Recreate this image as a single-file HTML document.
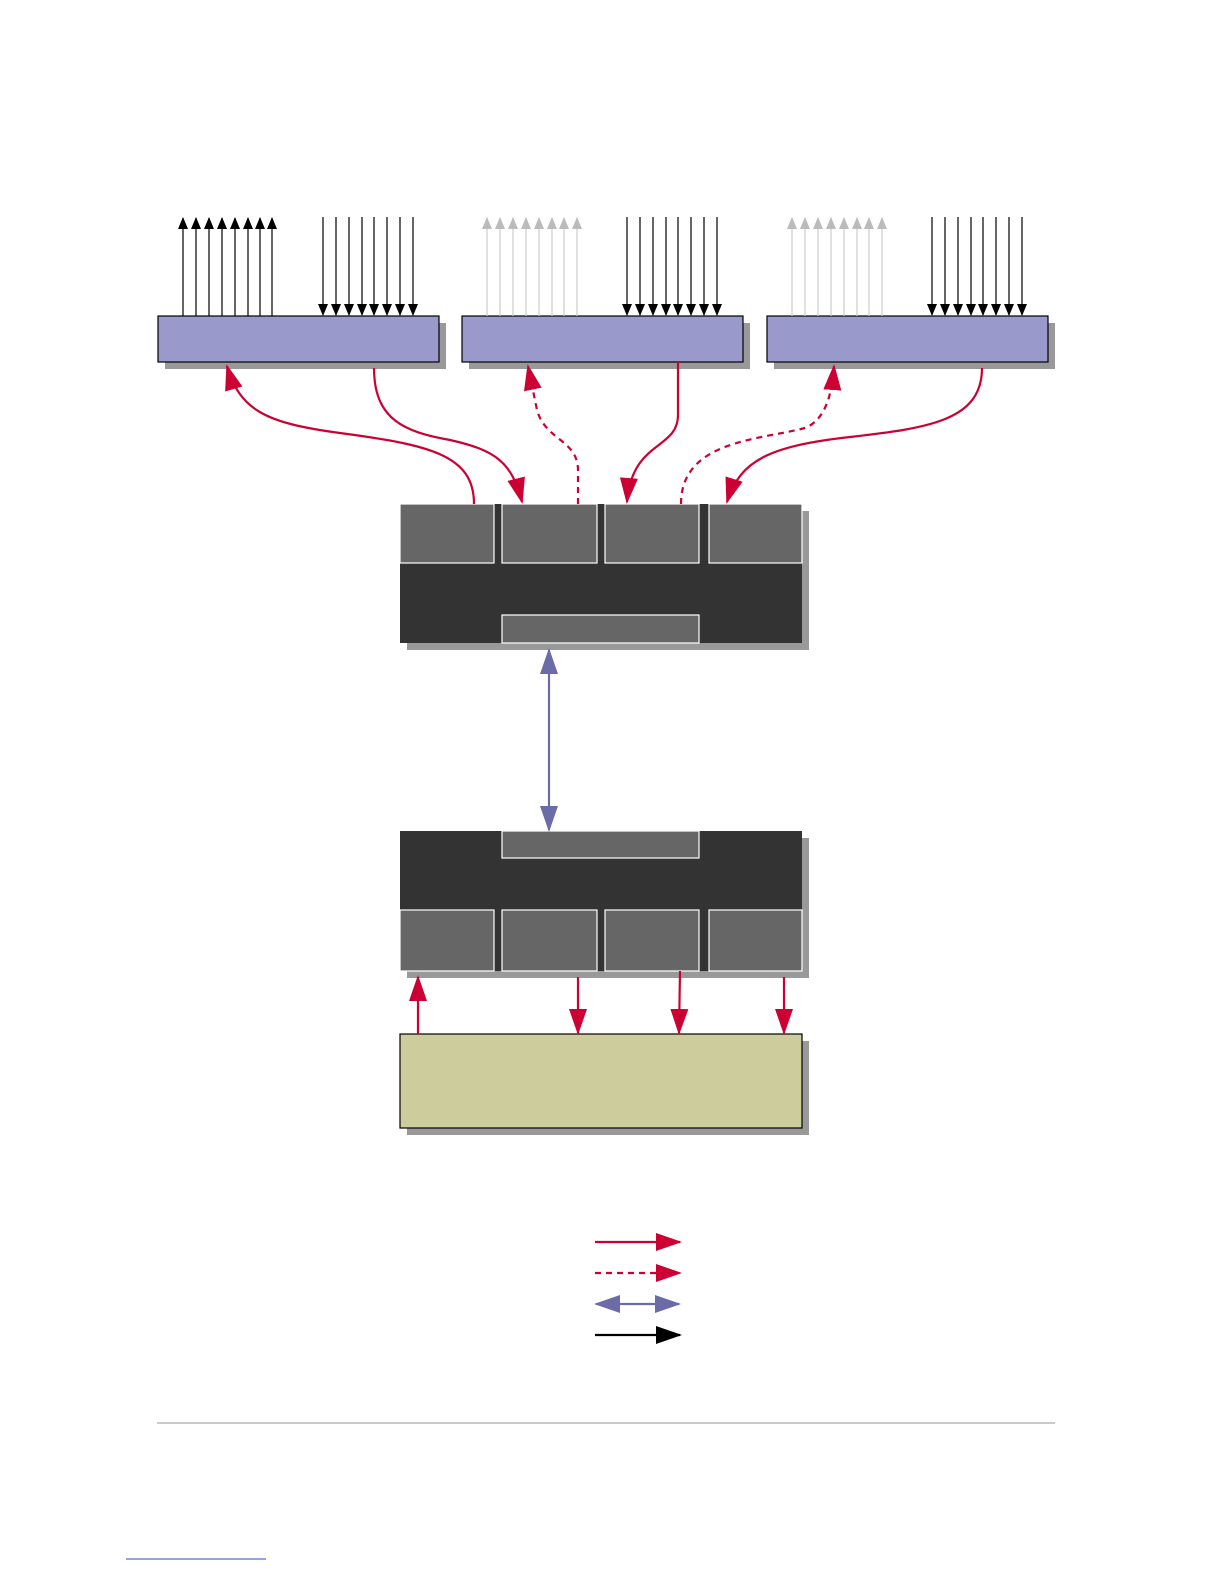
<!DOCTYPE html>
<html><head><style>html,body{margin:0;padding:0;background:#fff}svg{display:block}</style></head>
<body>
<svg width="1224" height="1584" viewBox="0 0 1224 1584" xmlns="http://www.w3.org/2000/svg">
<defs>
<marker id="r" markerUnits="userSpaceOnUse" markerWidth="26" markerHeight="18" refX="24" refY="9" orient="auto"><path d="M0,0 L26,9 L0,18 Z" fill="#cc0033"/></marker>
<marker id="p" markerUnits="userSpaceOnUse" markerWidth="26" markerHeight="18" refX="24" refY="9" orient="auto-start-reverse"><path d="M0,0 L26,9 L0,18 Z" fill="#6b6ba8"/></marker>
<marker id="b" markerUnits="userSpaceOnUse" markerWidth="12" markerHeight="10" refX="11" refY="5" orient="auto"><path d="M0,0 L12,5 L0,10 Z" fill="#000"/></marker>
<marker id="g" markerUnits="userSpaceOnUse" markerWidth="12" markerHeight="10" refX="11" refY="5" orient="auto"><path d="M0,0 L12,5 L0,10 Z" fill="#bbb"/></marker>
<marker id="bk" markerUnits="userSpaceOnUse" markerWidth="26" markerHeight="18" refX="24" refY="9" orient="auto"><path d="M0,0 L26,9 L0,18 Z" fill="#000"/></marker>
</defs>
<!-- top boxes -->
<g stroke="#000" stroke-width="1.2">
<rect x="165" y="323" width="281" height="46" fill="#999" stroke="none"/>
<rect x="158" y="316" width="281" height="46" fill="#9999cc"/>
<rect x="469" y="323" width="281" height="46" fill="#999" stroke="none"/>
<rect x="462" y="316" width="281" height="46" fill="#9999cc"/>
<rect x="774" y="323" width="281" height="46" fill="#999" stroke="none"/>
<rect x="767" y="316" width="281" height="46" fill="#9999cc"/>
</g>
<!-- signal arrows -->
<g stroke-width="1.2">
<g stroke="#000" marker-end="url(#b)">
<line x1="183" y1="316" x2="183" y2="218"/><line x1="196" y1="316" x2="196" y2="218"/><line x1="209" y1="316" x2="209" y2="218"/><line x1="222" y1="316" x2="222" y2="218"/><line x1="235" y1="316" x2="235" y2="218"/><line x1="248" y1="316" x2="248" y2="218"/><line x1="260" y1="316" x2="260" y2="218"/><line x1="272" y1="316" x2="272" y2="218"/>
<line x1="323" y1="217" x2="323" y2="315"/><line x1="336" y1="217" x2="336" y2="315"/><line x1="349" y1="217" x2="349" y2="315"/><line x1="362" y1="217" x2="362" y2="315"/><line x1="374" y1="217" x2="374" y2="315"/><line x1="387" y1="217" x2="387" y2="315"/><line x1="400" y1="217" x2="400" y2="315"/><line x1="413" y1="217" x2="413" y2="315"/>
<line x1="627" y1="217" x2="627" y2="315"/><line x1="640" y1="217" x2="640" y2="315"/><line x1="653" y1="217" x2="653" y2="315"/><line x1="666" y1="217" x2="666" y2="315"/><line x1="678" y1="217" x2="678" y2="315"/><line x1="691" y1="217" x2="691" y2="315"/><line x1="704" y1="217" x2="704" y2="315"/><line x1="717" y1="217" x2="717" y2="315"/>
<line x1="932" y1="217" x2="932" y2="315"/><line x1="945" y1="217" x2="945" y2="315"/><line x1="958" y1="217" x2="958" y2="315"/><line x1="971" y1="217" x2="971" y2="315"/><line x1="983" y1="217" x2="983" y2="315"/><line x1="996" y1="217" x2="996" y2="315"/><line x1="1009" y1="217" x2="1009" y2="315"/><line x1="1022" y1="217" x2="1022" y2="315"/>
</g>
<g stroke="#ccc" marker-end="url(#g)">
<line x1="487" y1="316" x2="487" y2="218"/><line x1="500" y1="316" x2="500" y2="218"/><line x1="513" y1="316" x2="513" y2="218"/><line x1="526" y1="316" x2="526" y2="218"/><line x1="539" y1="316" x2="539" y2="218"/><line x1="552" y1="316" x2="552" y2="218"/><line x1="564" y1="316" x2="564" y2="218"/><line x1="577" y1="316" x2="577" y2="218"/>
<line x1="792" y1="316" x2="792" y2="218"/><line x1="805" y1="316" x2="805" y2="218"/><line x1="818" y1="316" x2="818" y2="218"/><line x1="831" y1="316" x2="831" y2="218"/><line x1="844" y1="316" x2="844" y2="218"/><line x1="857" y1="316" x2="857" y2="218"/><line x1="869" y1="316" x2="869" y2="218"/><line x1="882" y1="316" x2="882" y2="218"/>
</g>
</g>
<!-- upper controller -->
<rect x="407" y="511" width="402" height="139" fill="#999"/>
<rect x="400" y="504" width="402" height="139" fill="#333"/>
<g fill="#666" stroke="#fff" stroke-width="1.2">
<rect x="400" y="504" width="94" height="59"/><rect x="502" y="504" width="95" height="59"/><rect x="605" y="504" width="94" height="59"/><rect x="709" y="504" width="93" height="59"/>
<rect x="502" y="615" width="197" height="28"/>
</g>
<!-- lower controller -->
<rect x="407" y="838" width="402" height="140" fill="#999"/>
<rect x="400" y="831" width="402" height="140" fill="#333"/>
<g fill="#666" stroke="#fff" stroke-width="1.2">
<rect x="502" y="831" width="197" height="27"/>
<rect x="400" y="910" width="94" height="61"/><rect x="502" y="910" width="95" height="61"/><rect x="605" y="910" width="94" height="61"/><rect x="709" y="910" width="93" height="61"/>
</g>
<!-- tan box -->
<rect x="407" y="1041" width="402" height="94" fill="#999"/>
<rect x="400" y="1034" width="402" height="94" fill="#cccc9c" stroke="#000" stroke-width="1.2"/>
<!-- curves -->
<g fill="none" stroke="#cc0033" stroke-width="2.2">
<path d="M474,504 C474,455 430,445 340,433 C265,423 240,410 227,366" marker-end="url(#r)"/>
<path d="M374,368 C374,420 405,432 450,440 C495,450 512,462 522,502" marker-end="url(#r)"/>
<path d="M578,504 L578,470 C578,440 545,440 537,410 L528,366" stroke-dasharray="6,5" marker-end="url(#r)"/>
<path d="M678,362 L678,415 C678,450 632,440 627,502" marker-end="url(#r)"/>
<path d="M681,504 C681,440 760,440 805,428 C825,420 832,395 834,366" stroke-dasharray="6,5" marker-end="url(#r)"/>
<path d="M982,368 C982,420 930,428 850,437 C770,446 740,460 727,502" marker-end="url(#r)"/>
<path d="M418,1034 L418,977" marker-end="url(#r)"/>
<path d="M578,977 L578,1033" marker-end="url(#r)"/>
<path d="M680,971 L679,1033" marker-end="url(#r)"/>
<path d="M784,977 L784,1033" marker-end="url(#r)"/>
</g>
<line x1="549" y1="650" x2="549" y2="830" stroke="#6b6ba8" stroke-width="2.2" marker-start="url(#p)" marker-end="url(#p)"/>
<!-- legend -->
<line x1="595" y1="1242" x2="680" y2="1242" stroke="#cc0033" stroke-width="2.2" marker-end="url(#r)"/>
<line x1="595" y1="1273" x2="680" y2="1273" stroke="#cc0033" stroke-width="2.2" stroke-dasharray="6,5" marker-end="url(#r)"/>
<line x1="596" y1="1304" x2="679" y2="1304" stroke="#6b6ba8" stroke-width="2.2" marker-start="url(#p)" marker-end="url(#p)"/>
<line x1="595" y1="1335" x2="680" y2="1335" stroke="#000" stroke-width="2.2" marker-end="url(#bk)"/>
<line x1="157" y1="1423" x2="1055" y2="1423" stroke="#aaa" stroke-width="1.2"/>
<line x1="126" y1="1559" x2="266" y2="1559" stroke="#3344cc" stroke-width="1"/>
</svg>
</body></html>
